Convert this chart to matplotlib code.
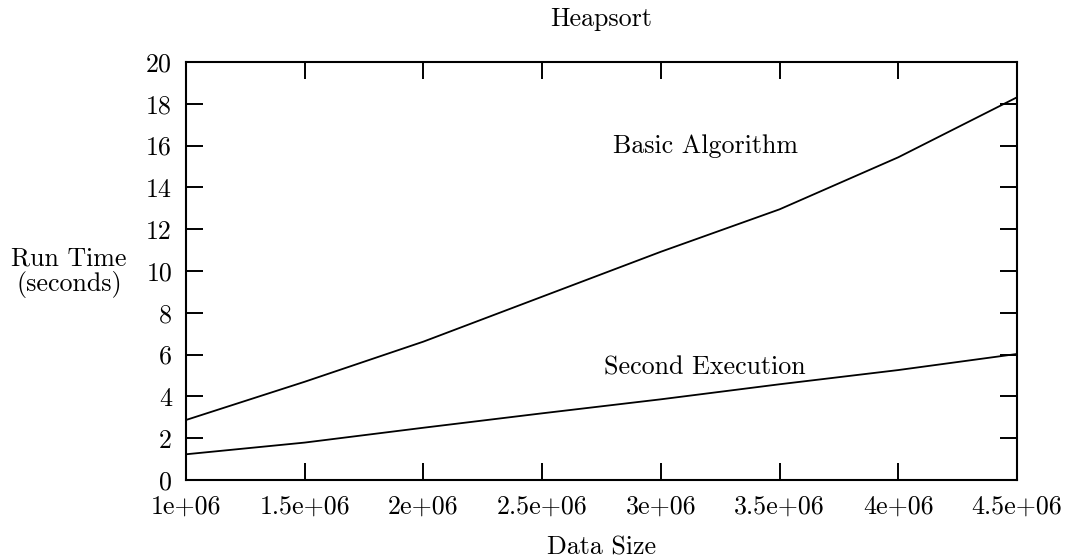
import numpy as np
import matplotlib
matplotlib.use('Agg')
import matplotlib.pyplot as plt

plt.rcParams['font.family'] = ['cmr10', 'DejaVu Serif']
plt.rcParams['axes.formatter.use_mathtext'] = True

# Dane
rozmiar = [1.0e6, 1.5e6, 2.0e6, 2.5e6, 3.0e6, 3.5e6, 4.0e6, 4.5e6]
czas_podstawowy = [2.87, 4.70, 6.62, 8.77, 10.92, 12.95, 15.44, 18.31]
czas_drugi = [1.23, 1.79, 2.50, 3.19, 3.86, 4.58, 5.26, 6.03]

etykiety_x = ['1e+06', '1.5e+06', '2e+06', '2.5e+06', '3e+06', '3.5e+06', '4e+06', '4.5e+06']
etykiety_y = [0, 2, 4, 6, 8, 10, 12, 14, 16, 18, 20]

ROZMIAR_TEKSTU = 18.7

fig = plt.figure(figsize=(10.65, 5.58), dpi=100)
ax = fig.add_axes([0.1746, 0.1398, 0.7803, 0.7491])

ax.plot(rozmiar, czas_podstawowy, color='black', linewidth=1.3)
ax.plot(rozmiar, czas_drugi, color='black', linewidth=1.3)

# Podpisy krzywych
ax.text(2.80e6, 15.65, 'Basic Algorithm', fontsize=ROZMIAR_TEKSTU, va='baseline', ha='left')
ax.text(2.76e6, 5.07, 'Second Execution', fontsize=ROZMIAR_TEKSTU, va='baseline', ha='left')

ax.set_xlim(1.0e6, 4.5e6)
ax.set_ylim(0, 20)
ax.set_xticks(rozmiar)
ax.set_xticklabels(etykiety_x)
ax.set_yticks(etykiety_y)
ax.set_yticklabels([str(v) for v in etykiety_y])

ax.tick_params(direction='in', length=12, width=1.4, top=True, right=True,
               labelsize=ROZMIAR_TEKSTU)
ax.tick_params(axis='x', pad=11)
ax.tick_params(axis='y', pad=10)
for s in ax.spines.values():
    s.set_linewidth(1.5)

ax.set_title('Heapsort', fontsize=ROZMIAR_TEKSTU, pad=26)
fig.text(0.5648, 0.006, 'Data Size', fontsize=ROZMIAR_TEKSTU, ha='center', va='baseline')
fig.text(0.065, 0.512, 'Run Time\n(seconds)', fontsize=ROZMIAR_TEKSTU, ha='center', va='center',
         linespacing=1.0)

fig.savefig('out.png', dpi=100)
